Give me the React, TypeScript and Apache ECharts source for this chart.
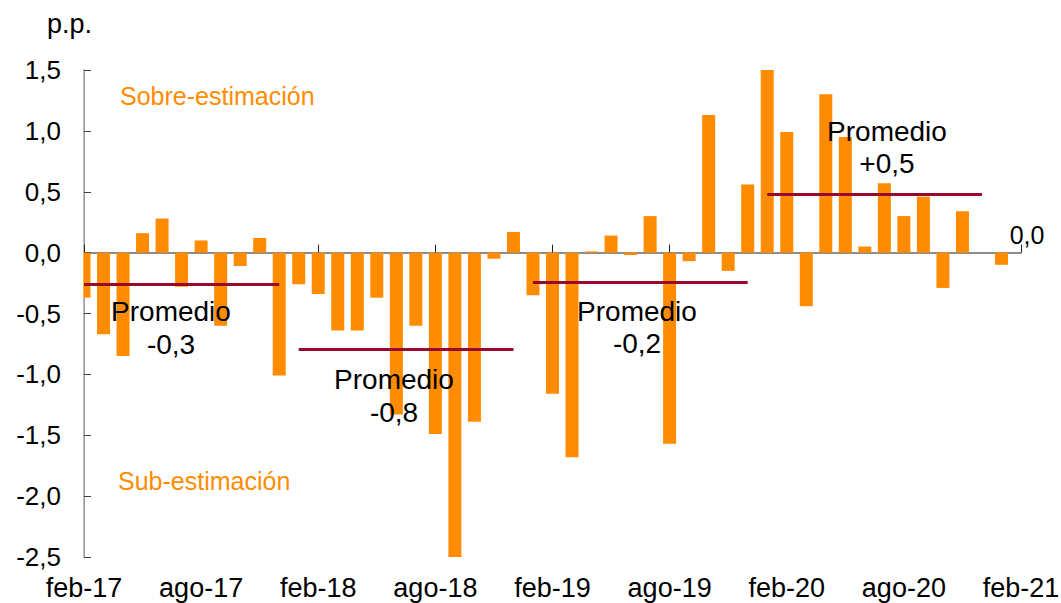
import React, { useEffect, useRef } from "react";
import * as echarts from "echarts";

const categories = [
  "feb-17", "mar-17", "abr-17", "may-17", "jun-17", "jul-17", "ago-17", "sep-17", "oct-17", "nov-17", "dic-17", "ene-18",
  "feb-18", "mar-18", "abr-18", "may-18", "jun-18", "jul-18", "ago-18", "sep-18", "oct-18", "nov-18", "dic-18", "ene-19",
  "feb-19", "mar-19", "abr-19", "may-19", "jun-19", "jul-19", "ago-19", "sep-19", "oct-19", "nov-19", "dic-19", "ene-20",
  "feb-20", "mar-20", "abr-20", "may-20", "jun-20", "jul-20", "ago-20", "sep-20", "oct-20", "nov-20", "dic-20", "ene-21",
  "feb-21",
];

const errorValues = [
  -0.37, -0.67, -0.85, 0.16, 0.28, -0.28, 0.1, -0.6, -0.11, 0.12, -1.01, -0.26,
  -0.34, -0.64, -0.64, -0.37, -1.33, -0.6, -1.49, -2.5, -1.39, -0.05, 0.17, -0.35,
  -1.16, -1.68, 0.01, 0.14, -0.02, 0.3, -1.57, -0.07, 1.13, -0.15, 0.56, 1.5,
  0.99, -0.44, 1.3, 0.95, 0.05, 0.57, 0.3, 0.46, -0.29, 0.34, 0.0, -0.1,
  0.0,
];

// average periods: [startCategory, endCategory, value]
const averagePeriods: [string, string, number][] = [
  ["feb-17", "dic-17", -0.26],
  ["ene-18", "dic-18", -0.79],
  ["ene-19", "dic-19", -0.24],
  ["ene-20", "dic-20", 0.48],
];

const averageLabels = ["-0,3", "-0,8", "-0,2", "+0,5"];

const yTicks = { min: -2.5, max: 1.5, interval: 0.5 };

const FONT = '"Liberation Sans", Arial, sans-serif';
const ORANGE = "#FF8C00";
const DARKRED = "#960A2C";

function txt(text: string, x: number, y: number, size: number, color: string, align = "center") {
  return {
    type: "text",
    x,
    y,
    z: 20,
    silent: true,
    style: {
      text,
      fill: color,
      fontSize: size,
      fontFamily: FONT,
      align,
      textAlign: align,
      verticalAlign: "middle",
      textVerticalAlign: "middle",
    },
  };
}

export default function App() {
  const ref = useRef<HTMLDivElement>(null);

  useEffect(() => {
    document.body.style.margin = "0";
    if (!ref.current) return;
    const chart = echarts.init(ref.current, null, { renderer: "svg" });

    const lastIdx = errorValues.length - 1;
    const barData = errorValues.map((v, i) =>
      i === lastIdx
        ? {
            value: v,
            label: {
              show: true,
              position: "top",
              distance: 5,
              offset: [6, 0],
              formatter: () => v.toFixed(1).replace(".", ","),
              fontSize: 25,
              fontFamily: FONT,
              color: "#000",
            },
          }
        : v
    );

    const promedioPos: [number, number, number][] = [
      [171, 311, 344],
      [394, 379, 412],
      [637, 311, 343],
      [887, 131, 163],
    ];

    const graphics: any[] = [
      // mask: clip the half of the first bar that falls left of the value axis
      {
        type: "rect",
        z: 15,
        silent: true,
        shape: { x: 66, y: 60, width: 17.3, height: 500 },
        style: { fill: "#fff" },
      },
      txt("p.p.", 47, 24, 27, "#000", "left"),
      txt("Sobre-estimación", 120, 96, 25, ORANGE, "left"),
      txt("Sub-estimación", 118, 481, 25, ORANGE, "left"),
    ];
    promedioPos.forEach(([x, y1, y2], i) => {
      graphics.push(txt("Promedio", x, y1, 28, "#000"));
      graphics.push(txt(averageLabels[i], x, y2, 28, "#000"));
    });

    chart.setOption({
      animation: false,
      textStyle: { fontFamily: FONT },
      grid: { left: 84, right: 40, top: 70, bottom: 46, outerBoundsMode: "none" },
      xAxis: [
        {
          type: "category",
          data: categories,
          boundaryGap: false,
          position: "bottom",
          axisLine: { show: false, onZero: false },
          axisTick: { show: false },
          axisLabel: {
            interval: 5,
            fontSize: 27,
            color: "#000",
            margin: 17,
            fontFamily: FONT,
          },
          splitLine: { show: false },
        },
        {
          type: "category",
          data: categories,
          boundaryGap: false,
          position: "bottom",
          axisLine: { show: true, onZero: true, lineStyle: { color: "#666", width: 1.5 } },
          axisTick: { show: true, inside: true, interval: 5, length: 8, lineStyle: { color: "#222", width: 1 } },
          axisLabel: { show: false },
          splitLine: { show: false },
        },
      ],
      yAxis: {
        type: "value",
        min: yTicks.min,
        max: yTicks.max,
        interval: yTicks.interval,
        axisLine: { show: true, onZero: false, lineStyle: { color: "#808080", width: 1.5 } },
        axisTick: { show: true, inside: true, length: 7, lineStyle: { color: "#404040" } },
        axisLabel: {
          fontSize: 26,
          color: "#000",
          margin: 23,
          fontFamily: FONT,
          formatter: (v: number) => v.toFixed(1).replace(".", ","),
        },
        splitLine: { show: false },
      },
      series: [
        {
          type: "bar",
          xAxisIndex: 0,
          data: barData,
          barWidth: 13,
          clip: true,
          silent: true,
          itemStyle: { color: ORANGE },
          markLine: {
            silent: true,
            symbol: ["none", "none"],
            label: { show: false },
            lineStyle: { color: DARKRED, width: 3, type: "solid" },
            emphasis: { disabled: true },
            data: averagePeriods.map(([a, b, v]) => [
              { coord: [a, v] },
              { coord: [b, v] },
            ]),
          },
        },
      ],
      graphic: graphics,
    });

    return () => chart.dispose();
  }, []);

  return (
    <div
      ref={ref}
      style={{ position: "absolute", left: 0, top: 0, width: 1061, height: 603 }}
    />
  );
}
